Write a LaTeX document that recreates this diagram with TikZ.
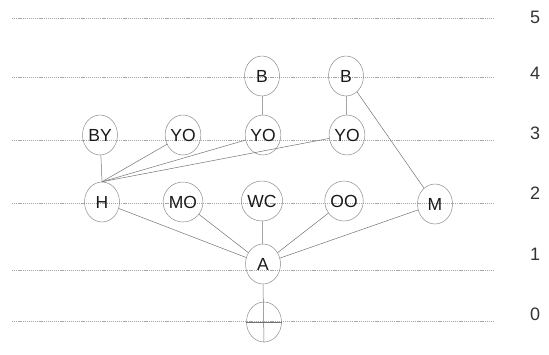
\documentclass[tikz,border=0pt]{standalone}
\usepackage{fontspec}
\setmainfont{Liberation Sans}
\usetikzlibrary{shapes.geometric}
\begin{document}
\begin{tikzpicture}[x=1pt,y=-1pt,
  lvl/.style={draw=black!35, line width=0.6pt, dash pattern=on 1.2pt off 0.9pt},
  nd/.style={ellipse, draw=black!45, line width=0.5pt, minimum width=35pt, minimum height=40pt, inner sep=0pt, font=\fontsize{17.5}{17.5}\selectfont, text=black!90},
  lab/.style={font=\fontsize{18}{18}\selectfont, text=black!80},
  edge/.style={draw=black!55, line width=0.5pt}]
\useasboundingbox (0,0) rectangle (549,354);
% level lines
\foreach \n/\y/\ly in {5/18/17,4/77/73,3/140/133,2/203/193,1/270/254,0/321/314}{
  \coordinate (l\n a) at (12,\y);
  \coordinate (l\n b) at (494,\y);
  \draw[lvl] (l\n a) -- (l\n b);
  \node[lab] (lab\n) at (535,\ly) {\n};
}
% nodes
\node[nd] (B1) at (262,76) {B};
\node[nd] (B2) at (346,76) {B};
\node[nd] (BY) at (100,135) {BY};
\node[nd] (YO1) at (183,135) {YO};
\node[nd] (YO2) at (263,135) {YO};
\node[nd] (YO3) at (347,135) {YO};
\node[nd] (H) at (102,202) {H};
\node[nd] (MO) at (183,202) {MO};
\node[nd] (WC) at (262,201) {WC};
\node[nd] (OO) at (344,201) {OO};
\node[nd] (M) at (435,204) {M};
\node[nd] (A) at (263,264) {A};
\node[nd] (R) at (264,322) {};
% connectors
\draw[edge] (B1) -- (YO2);
\draw[edge] (B2) -- (YO3);
\draw[edge] (B2) -- (M);
\draw[edge] (BY) -- (H.north);
\draw[edge] (YO1) -- (H.north);
\draw[edge] (YO2) -- (H.north);
\draw[edge] (YO3) -- (H.north);
\draw[edge] (H) -- (A);
\draw[edge] (MO) -- (A);
\draw[edge] (WC) -- (A);
\draw[edge] (OO) -- (A);
\draw[edge] (M) -- (A);
\draw[edge] (A.south) -- (R.south);
\draw[edge] (R.west) -- (R.east);
\end{tikzpicture}
\end{document}
